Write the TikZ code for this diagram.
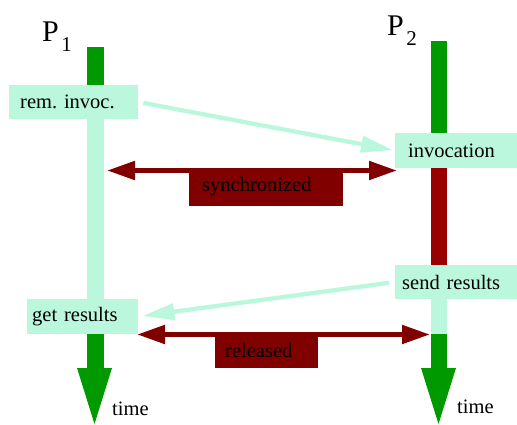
\documentclass[tikz,border=0pt]{standalone}
\usepackage{fontspec}
\setmainfont{Liberation Serif}
\frenchspacing
\usetikzlibrary{arrows.meta}
\definecolor{barGreen}{RGB}{0,153,0}
\definecolor{mint}{RGB}{187,247,221}
\definecolor{barRed}{RGB}{153,0,0}
\definecolor{darkRed}{RGB}{128,0,0}
\begin{document}
\begin{tikzpicture}[x=1pt,y=-1pt,
  font=\fontsize{20.5}{24}\selectfont,
  stepbox/.style={fill=mint, anchor=west, inner ysep=0pt, align=left},
  tagbox/.style={fill=darkRed, anchor=west, inner ysep=0pt, align=left},
  msg/.style={draw=mint, line width=4.3pt, -{Triangle[length=32pt,width=16pt]}},
  sync/.style={draw=darkRed, line width=5pt,
    {Triangle[length=28pt,width=18pt]}-{Triangle[length=28pt,width=18pt]}},
  proc/.style={anchor=base west, inner sep=0pt}]
\useasboundingbox (0,0) rectangle (517,424);

% process P1 time line
\fill[barGreen] (87,47) rectangle (104,85);
\fill[mint] (87,85) rectangle (104,334);
\fill[barGreen] (87,334) rectangle (104,368);
\fill[barGreen] (77,368) -- (112,368) -- (94.5,424) -- cycle;

% process P2 time line
\fill[barGreen] (431,41) rectangle (447,133);
\fill[barRed] (431,168) rectangle (447,265);
\fill[mint] (431,265) rectangle (447,334);
\fill[barGreen] (431,334) rectangle (447,368);
\fill[barGreen] (421,368) -- (456,368) -- (438.5,424) -- cycle;

% process names
\node[proc] (P1) at (42,41) {\fontsize{30}{30}\selectfont P\kern2.5pt\raisebox{-10pt}{\fontsize{21}{22}\selectfont 1}};
\node[proc] (P2) at (387,35) {\fontsize{30}{30}\selectfont P\kern2.5pt\raisebox{-10pt}{\fontsize{21}{22}\selectfont 2}};

% events
\node[stepbox, text width=107pt, inner xsep=11pt, minimum height=34pt] (rem) at (9,102) {rem. invoc.};
\node[stepbox, text width=101pt, inner xsep=5pt, minimum height=35pt] (get) at (27,316.5) {get results};
\node[stepbox, text width=96pt, inner xsep=13pt, minimum height=35pt] (invoc) at (395,150.5) {invocation};
\node[stepbox, text width=108pt, inner xsep=7pt, minimum height=34pt] (send) at (395,282) {send results};

% messages
\draw[msg, shorten <=5pt, shorten >=2pt] (rem.east) -- (invoc.west);
\draw[msg, shorten <=6pt, shorten >=4pt] (send.west) -- (get.east);

% synchronisation intervals
\coordinate (syncL) at (107,170.5);
\coordinate (syncR) at (397,170.5);
\draw[sync] (syncL) -- (syncR);
\node[tagbox, text width=128pt, inner xsep=13pt, minimum height=38pt] (synclbl) at (189,187) {synchronized};

\coordinate (relL) at (137,334.5);
\coordinate (relR) at (430,334.5);
\draw[sync] (relL) -- (relR);
\node[tagbox, text width=83pt, inner xsep=10pt, minimum height=36pt] (rellbl) at (215,350) {released};

% time labels
\node[proc] (time1) at (112,415) {time};
\node[proc] (time2) at (457,413) {time};
\end{tikzpicture}
\end{document}
